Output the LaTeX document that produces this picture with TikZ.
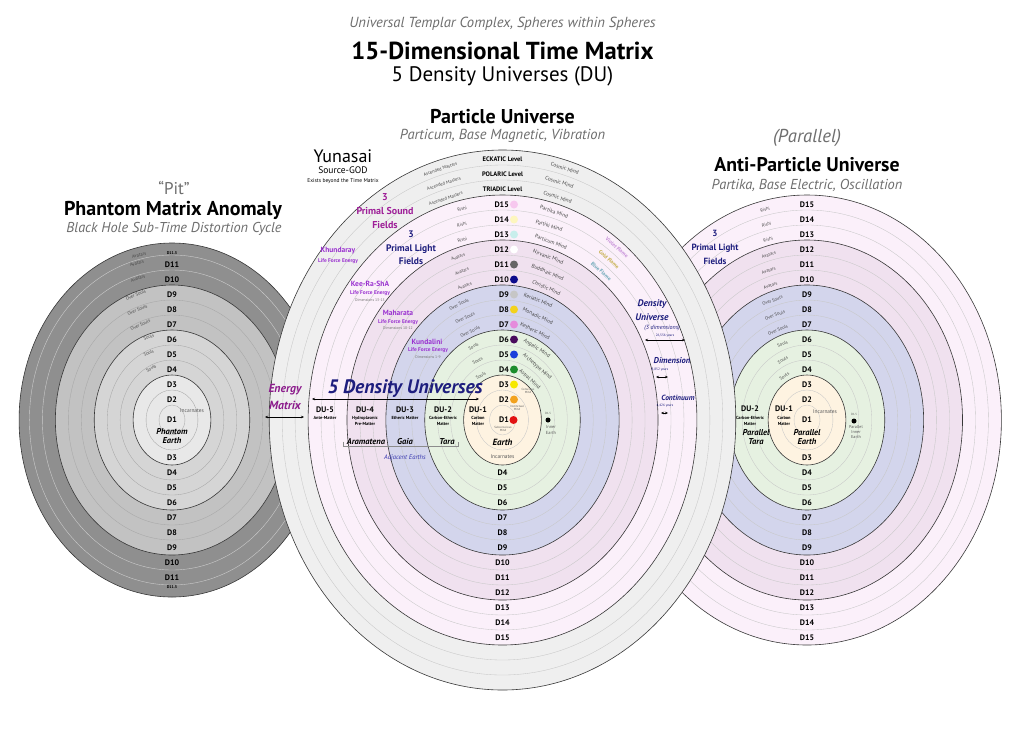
\documentclass[tikz,border=0pt]{standalone}
\usepackage{fontspec}
\setmainfont{PT Sans}
\usepackage{xcolor}
\usepackage{tikz}
\usetikzlibrary{arrows.meta}

\definecolor{subgray}{HTML}{6E6E6E}
\definecolor{ringgray}{HTML}{EFEFEF}
\definecolor{ringpink}{HTML}{FBF0FA}
\definecolor{ringmauve}{HTML}{F0E1EF}
\definecolor{ringblue}{HTML}{D3D5EC}
\definecolor{ringgreen}{HTML}{E6F1E1}
\definecolor{ringcream}{HTML}{FEF3E1}
\definecolor{pitcore}{HTML}{E8E8E8}
\definecolor{pitlight}{HTML}{D5D5D5}
\definecolor{pitmid}{HTML}{C2C2C2}
\definecolor{pitdark}{HTML}{8F8F8F}
\definecolor{soundpurple}{HTML}{9E1F98}
\definecolor{lfviolet}{HTML}{9A32D0}
\definecolor{energypurple}{HTML}{8C1C8C}
\definecolor{navytext}{HTML}{1E1E7E}
\definecolor{earthblue}{HTML}{3A3AB0}
\definecolor{flameviolet}{HTML}{C58DD8}
\definecolor{flamegold}{HTML}{C4AE48}
\definecolor{flameblue}{HTML}{6AA6B6}
\definecolor{dotpink}{HTML}{F7C8EF}
\definecolor{dotyellow}{HTML}{FDF6BE}
\definecolor{dotcyan}{HTML}{C8EEEC}
\definecolor{dotgray}{HTML}{666666}
\definecolor{dotnavy}{HTML}{0B0B8C}
\definecolor{dotsilver}{HTML}{C6C6C6}
\definecolor{dotgold}{HTML}{F3D21C}
\definecolor{dotorchid}{HTML}{E58BDC}
\definecolor{dotpurple}{HTML}{4A0B5C}
\definecolor{dotblue}{HTML}{1B3FDB}
\definecolor{dotgreen}{HTML}{1C8C2C}
\definecolor{dotlemon}{HTML}{F6E800}
\definecolor{dotorange}{HTML}{F2A21E}
\definecolor{dotred}{HTML}{E21212}

\newcommand{\fsz}[1]{\fontsize{#1}{#1}\selectfont}

\tikzset{
  ringline/.style={draw=black!22,line width=0.35pt},
  groupline/.style={draw=black!78,line width=0.6pt},
  pitline/.style={draw=black!35,line width=0.35pt},
  darkline/.style={draw=white!80!black,line width=0.4pt},
  dlab/.style={font=\fsz{8}\bfseries,inner sep=0pt},
  smalld/.style={font=\fsz{4}\bfseries,inner sep=0pt},
  levlab/.style={font=\fsz{6.5}\bfseries,inner sep=0pt},
  ringlab/.style={font=\fsz{4.6},text=black!72,inner sep=0pt},
  mindlab/.style={font=\fsz{5.4},text=black!72,inner sep=0pt},
  dotmark/.style={circle,inner sep=0pt,minimum size=8pt},
  tinytxt/.style={font=\fontsize{4.4}{5.4}\selectfont\bfseries,inner sep=0pt,align=center},
  microtxt/.style={font=\fontsize{3}{3.6}\selectfont,text=black!65,inner sep=0pt,align=center},
  dulab/.style={font=\fsz{8}\bfseries,inner sep=0pt},
  earthname/.style={font=\fontsize{8.5}{9}\selectfont\bfseries\itshape,inner sep=0pt,align=center},
  incarn/.style={font=\fsz{5.4},text=black!65,inner sep=0pt},
  lfname/.style={font=\fsz{7.5}\bfseries,text=lfviolet,inner sep=0pt},
  lfsub/.style={font=\fsz{5.4}\bfseries,text=lfviolet,inner sep=0pt},
  lfdim/.style={font=\fsz{3.8},text=black!55,inner sep=0pt},
  fieldlab/.style={font=\fontsize{10}{14}\selectfont\bfseries,inner sep=0pt,align=center},
  bluelab/.style={font=\fsz{8.5}\bfseries\itshape,text=navytext,inner sep=0pt},
  yearslab/.style={font=\fsz{3.4},text=navytext,inner sep=0pt},
  spanarrow/.style={<->,>={Stealth[length=3pt,width=2.5pt]},line width=0.45pt},
  flame/.style={font=\fsz{5.2}\bfseries,inner sep=0pt},
}

\begin{document}
\begin{tikzpicture}[x=1pt,y=-1pt]
\useasboundingbox (0,0) rectangle (1024,737);
\fill[white] (0,0) rectangle (1024,737);

% titles
\node[font=\fsz{14.6}\itshape,text=subgray] (supline) at (502.5,24) {Universal Templar Complex, Spheres within Spheres};
\node[font=\fsz{24.6}\bfseries] (maintitle) at (502.5,51) {15-Dimensional Time Matrix};
\node[font=\fsz{21}] (subtitle) at (502.5,76) {5 Density Universes (DU)};

% phantom matrix
\node[font=\fsz{17},text=subgray] (pitword) at (174,188) {“Pit”};
\node[font=\fsz{20}\bfseries] (pitname) at (173,210) {Phantom Matrix Anomaly};
\node[font=\fsz{14.3}\itshape,text=subgray] (pitsub) at (174,229) {Black Hole Sub-Time Distortion Cycle};
\begin{scope}[shift={(172,420)}]
  \foreach \r/\c in {177/pitdark,135/pitmid,90/pitlight,45/pitcore}
    \fill[\c] (0,0) ellipse [x radius=0.864*\r, y radius=\r];
  \foreach \k in {1,2,4,5,7,8}
    \draw[pitline] (0,0) ellipse [x radius=12.96*\k, y radius=15*\k];
  \foreach \k in {10,11}
    \draw[darkline] (0,0) ellipse [x radius=12.96*\k, y radius=15*\k];
  \foreach \r in {45,90,135,177}
    \draw[groupline] (0,0) ellipse [x radius=0.864*\r, y radius=\r];
  \foreach \k in {2,...,11}
    \node[dlab] (pt\k) at (0,{-15*\k+9.5}) {D\k};
  \node[dlab] (pt1) at (0,0) {D1};
  \node[smalld] (pttop) at (0,-167) {D11.5};
  \foreach \k in {3,...,11}
    \node[dlab] (pb\k) at (0,{15*\k-7.5}) {D\k};
  \node[smalld] (pbot) at (0,167) {D11.5};
  \node[earthname] (pitearth) at (0,16.5) {Phantom\\Earth};
  \node[incarn] (pitinc) at (20,-9) {Incarnates};
  \foreach \k/\t/\txt [count=\i] in {11.9/103/Avatars,11.4/104.5/Avatars,10.4/105.5/Avatars,
      9.4/108.5/Over Souls,8.4/110/Over Souls,7.4/111/Over Souls,
      6.4/108/Souls,5.4/112/Souls,4.4/115/Souls}{
    \pgfmathsetmacro\rot{atan2(-cos(\t),0.864*sin(\t))}
    \node[ringlab,rotate=\rot] (pl\i) at ({12.96*(\k-0.6)*cos(\t)},{-15*(\k-0.6)*sin(\t)}) {\txt};
  }
\end{scope}

% anti-particle universe
\node[font=\fsz{18.7}\itshape,text=subgray] (apword) at (807,138) {(Parallel)};
\node[font=\fsz{19.8}\bfseries] (apname) at (807,165) {Anti-Particle Universe};
\node[font=\fsz{14.4}\itshape,text=subgray] (apsub) at (807,185) {Partika, Base Electric, Oscillation};
\begin{scope}[shift={(807,420)}]
  \foreach \k/\c in {15/ringpink,12/ringmauve,9/ringblue,6/ringgreen,3/ringcream}
    \fill[\c] (0,0) ellipse [x radius=12.96*\k, y radius=15*\k];
  \foreach \k in {1,2,4,5,7,8,10,11,13,14}
    \draw[ringline] (0,0) ellipse [x radius=12.96*\k, y radius=15*\k];
  \foreach \k in {3,6,...,15}
    \draw[groupline] (0,0) ellipse [x radius=12.96*\k, y radius=15*\k];
  \foreach \k in {2,...,15}
    \node[dlab] (at\k) at (0,{-15*\k+9.5}) {D\k};
  \node[dlab] (at1) at (0,0) {D1};
  \foreach \k in {3,...,15}
    \node[dlab] (ab\k) at (0,{15*\k-7.5}) {D\k};
  \foreach \k/\t/\txt [count=\i] in {15/103/Rishi,14/103.5/Rishi,13/104/Rishi,
      12/105/Avatars,11/106.5/Avatars,10/107.5/Avatars,
      9/108.5/Over Souls,8/109.5/Over Souls,7/110.5/Over Souls,
      6/110.5/Souls,5/115/Souls,4/121/Souls}{
    \pgfmathsetmacro\rot{atan2(-cos(\t),0.864*sin(\t))}
    \node[ringlab,rotate=\rot] (al\i) at ({12.96*(\k-0.6)*cos(\t)},{-15*(\k-0.6)*sin(\t)}) {\txt};
  }
  \node[dulab] (adu1) at (-23,-11) {DU-1};
  \node[tinytxt] (adu1m) at (-23,1) {Carbon\\Matter};
  \node[dulab] (adu2) at (-57,-11) {DU-2};
  \node[tinytxt] (adu2m) at (-57,1) {Carbon-Etheric\\Matter};
  \node[earthname] (atara) at (-51,17.5) {Parallel\\Tara};
  \node[earthname] (aearth) at (0,17) {Parallel\\Earth};
  \node[incarn] (ainc) at (18,-8) {Incarnates};
  \node[circle,fill=black,inner sep=0pt,minimum size=5pt] (ainner) at (47,1) {};
  \node[microtxt] (ainnerd) at (47,-6) {D1.5};
  \node[microtxt,font=\fontsize{4.2}{5}\selectfont] (ainnert) at (49,12.5) {Parallel\\Inner\\Earth};
\end{scope}
\node[fieldlab,text=navytext,font=\fontsize{9}{14}\selectfont\bfseries] (alight) at (715,247) {3\\Primal Light\\Fields};

% particle universe
\node[font=\fsz{20}\bfseries] (puname) at (502.5,117) {Particle Universe};
\node[font=\fsz{14.5}\itshape,text=subgray] (pusub) at (502.5,136) {Particum, Base Magnetic, Vibration};
\begin{scope}[shift={(502.5,420)}]
  \foreach \k/\c in {18/ringgray,15/ringpink,12/ringmauve,9/ringblue,6/ringgreen,3/ringcream}
    \fill[\c] (0,0) ellipse [x radius=12.96*\k, y radius=15*\k];
  \foreach \k in {1,2,4,5,7,8,10,11,13,14,16,17}
    \draw[ringline] (0,0) ellipse [x radius=12.96*\k, y radius=15*\k];
  \foreach \k in {3,6,...,18}
    \draw[groupline] (0,0) ellipse [x radius=12.96*\k, y radius=15*\k];
  % levels and dimensions
  \foreach \k/\lev in {18/ECKATIC,17/POLARIC,16/TRIADIC}
    \node[levlab] (lev\k) at (0,{-15*\k+9.5}) {\lev\ Level};
  \foreach \k/\c in {15/dotpink,14/dotyellow,13/dotcyan,12/white,11/dotgray,10/dotnavy,9/dotsilver,
      8/dotgold,7/dotorchid,6/dotpurple,5/dotblue,4/dotgreen,3/dotlemon,2/dotorange}{
    \node[dlab,anchor=east] (ct\k) at (6.5,{-15*\k+9.5}) {D\k};
    \node[dotmark,fill=\c] (cdot\k) at (11.5,{-15*\k+9.5}) {};
  }
  \node[dlab,anchor=east] (ct1) at (6.5,0) {D1};
  \node[dotmark,fill=dotred] (cdot1) at (11,0) {};
  \foreach \k in {4,...,15}
    \node[dlab] (cb\k) at (0,{15*\k-7.5}) {D\k};
  % ring names
  \foreach \k/\t/\txt [count=\i] in {18/106/Ascended Masters,17/106/Ascended Masters,16/106.5/Ascended Masters,
      15/102.5/Rishi,14/103.5/Rishi,13/104.5/Rishi,
      12/107.5/Avatars,11/107.5/Avatars,10/108/Avatars,
      9/113.5/Over Souls,8/113/Over Souls,7/113/Over Souls,
      6/114.5/Souls,5/116/Souls,4/119.5/Souls}{
    \pgfmathsetmacro\rot{atan2(-cos(\t),0.864*sin(\t))}
    \node[ringlab,rotate=\rot] (cl\i) at ({12.96*(\k-0.6)*cos(\t)},{-15*(\k-0.6)*sin(\t)}) {\txt};
  }
  \foreach \k/\t/\txt [count=\i] in {18/74/Cosmic Mind,17/74.5/Cosmic Mind,16/74/Cosmic Mind,
      15/74/Partika Mind,14/74.5/Partiki Mind,13/72.5/Particum Mind,
      12/72/Nirvanic Mind,11/70.5/Buddhaic Mind,10/69/Christic Mind,
      9/71/Keriatic Mind,8/68.5/Monadic Mind,7/67/Ketheric Mind,
      6/61/Angelic Mind,5/53/Archetype Mind,4/52/Astral Mind}{
    \pgfmathsetmacro\rot{atan2(-cos(\t),0.864*sin(\t))}
    \node[mindlab,rotate=\rot] (cm\i) at ({12.96*(\k-0.55)*cos(\t)},{-15*(\k-0.55)*sin(\t)}) {\txt};
  }
  \foreach \k/\c/\txt [count=\i] in {15/flameviolet/Violet Flame,14/flamegold/Gold Flame,13/flameblue/Blue Flame}{
    \pgfmathsetmacro\rot{atan2(-cos(52.5),0.864*sin(52.5))}
    \node[flame,text=\c,rotate=\rot] (cf\i) at ({12.96*(\k-0.5)*cos(52.5)},{-15*(\k-0.5)*sin(52.5)}) {\txt};
  }
  \node[microtxt] (cmind3) at (25.5,-29) {Conscious\\Mind};
  \node[microtxt] (cmind2) at (14.5,-12) {Instinctual\\Mind};
  \node[microtxt] (cmind1) at (0.5,9) {Subconscious\\Mind};
  \node[earthname,font=\fsz{9}\bfseries\itshape] (cearth) at (0,22) {Earth};
  \node[incarn] (cinc) at (0,37) {Incarnates};
  \node[circle,fill=black,inner sep=0pt,minimum size=5pt] (cinner) at (45.5,0) {};
  \node[microtxt] (cinnerd) at (45.5,-7) {D1.5};
  \node[microtxt,font=\fontsize{4.4}{5.6}\selectfont] (cinnert) at (48.5,10) {Inner\\Earth};
\end{scope}

% source and fields
\node[font=\fsz{18}] (yunasai) at (343,156) {Yunasai};
\node[font=\fsz{9.5}] (yunasrc) at (343,170) {Source-GOD};
\node[font=\fsz{5.5}] (yunaex) at (343,181) {Exists beyond the Time Matrix};
\node[fieldlab,text=soundpurple] (csound) at (385,211) {3\\Primal Sound\\Fields};
\node[fieldlab,text=navytext,font=\fontsize{9.5}{13.5}\selectfont\bfseries] (clight) at (411,248) {3\\Primal Light\\Fields};
\node[lfname] (khund) at (338,251) {Khundaray};
\node[lfsub] (khunds) at (338,261) {Life Force Energy};
\node[lfname] (keera) at (370,284) {Kee-Ra-ShA};
\node[lfsub] (keeras) at (370,293) {Life Force Energy};
\node[lfdim] (keerad) at (370,300) {Dimensions 13-15};
\node[lfname] (mahar) at (398,313) {Maharata};
\node[lfsub] (mahars) at (398,322) {Life Force Energy};
\node[lfdim] (mahard) at (398,328) {Dimensions 10-12};
\node[lfname] (kunda) at (427,342) {Kundalini};
\node[lfsub] (kundas) at (428,350) {Life Force Energy};
\node[lfdim] (kundad) at (428,357) {Dimensions 1-9};

% energy matrix and density universes
\node[font=\fontsize{11.8}{17}\selectfont\bfseries\itshape,text=energypurple,align=center,inner sep=0pt] (energy) at (285,396.5) {Energy\\Matrix};
\coordinate (eml) at (265,417);
\coordinate (emr) at (304,417);
\draw[spanarrow] (eml) -- (emr);
\node[font=\fsz{19.5}\bfseries\itshape,text=navytext,inner sep=0pt] (fivedu) at (405,389) {5 Density Universes};
\coordinate (dul) at (312,399);
\coordinate (dur) at (479,399);
\draw[spanarrow] (dul) -- (dur);
\foreach \n/\x/\m in {5/325/Ante-Matter,4/365/Hydroplasmic\\Pre-Matter,3/405/Etheric Matter,2/443/Carbon-Etheric\\Matter,1/478/Carbon\\Matter}{
  \node[dulab] (du\n) at (\x,410) {DU-\n};
  \node[tinytxt,anchor=north] (dum\n) at (\x,416.5) {\m};
}
\node[earthname] (aramatena) at (366,442) {Aramatena};
\node[earthname] (gaia) at (405,442) {Gaia};
\node[earthname] (tara) at (447,442) {Tara};
\coordinate (brl) at (343,446.5);
\coordinate (brr) at (458,446.5);
\draw[black!45,line width=0.4pt] (brl) ++(0,-5) -- (brl) -- (brr) -- ++(0,-5);
\node[font=\fsz{6.6}\itshape,text=earthblue,inner sep=0pt] (adjacent) at (405,458) {Adjacent Earths};

% density, dimension, continuum
\node[bluelab,font=\fontsize{9.5}{14}\selectfont\bfseries\itshape,align=center] (densu) at (652,310) {Density\\Universe};
\node[font=\fsz{6}\itshape,text=navytext,inner sep=0pt] (densd) at (662,328) {(3 dimensions)};
\node[yearslab] (densy) at (665,335.5) {26,556 years};
\coordinate (dnl) at (645,340);
\coordinate (dnr) at (685,340);
\draw[spanarrow] (dnl) -- (dnr);
\node[bluelab] (dimen) at (672,361) {Dimension};
\node[yearslab] (dimy) at (660,370) {8,852 years};
\coordinate (dml) at (656,377);
\coordinate (dmr) at (668,377);
\draw[spanarrow] (dml) -- (dmr);
\node[bluelab,font=\fsz{7.5}\bfseries\itshape] (contin) at (678,398) {Continuum};
\node[yearslab] (conty) at (665,406) {4,426 years};
\coordinate (ctl) at (661,413);
\coordinate (ctr) at (668,413);
\draw[spanarrow] (ctl) -- (ctr);
\end{tikzpicture}
\end{document}
